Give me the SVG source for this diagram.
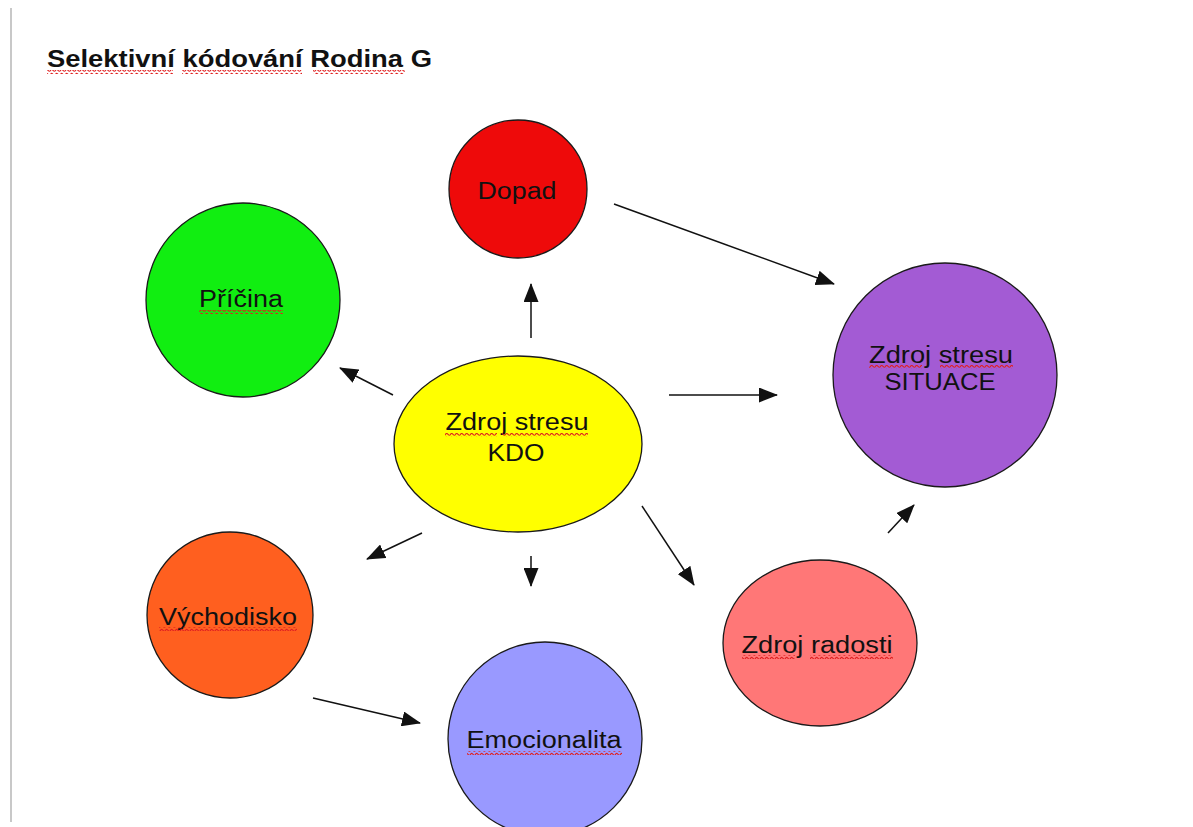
<svg xmlns="http://www.w3.org/2000/svg" width="1193" height="827" viewBox="0 0 1193 827">
  <style>
    .node { stroke: #1a1a1a; stroke-width: 1.3; }
    .label { font-family: "Liberation Sans", Arial, sans-serif; font-size: 23px; fill: #111; text-anchor: middle; }
    .title { font-family: "Liberation Sans", Arial, sans-serif; font-size: 23px; font-weight: bold; fill: #111; }
    .edge { stroke: #111; stroke-width: 1.5; fill: none; marker-end: url(#arrow); }
    .squiggle { fill: url(#wave); }
  </style>
  <defs>
    <marker id="arrow" markerUnits="userSpaceOnUse" markerWidth="19" markerHeight="15" viewBox="0 0 19 15" refX="18" refY="7.5" orient="auto">
      <path d="M0,0 L19,7.5 L0,15 Z" fill="#111"/>
    </marker>
    <pattern id="wave" width="5" height="4" patternUnits="userSpaceOnUse">
      <path d="M0,3.2 Q1.25,0.4 2.5,1.8 T5,3.2" fill="none" stroke="#e02020" stroke-width="1.1"/>
    </pattern>
  </defs>

  <rect width="1193" height="827" fill="#ffffff"/>
  <!-- page margin rule -->
  <line x1="11" y1="8" x2="11" y2="822" stroke="#c8c8c8" stroke-width="2"/>

  <!-- heading -->
  <text class="title" x="47" y="67" textLength="385" lengthAdjust="spacingAndGlyphs">Selektivní kódování Rodina G</text>
  <rect class="squiggle" x="47" y="70" width="126" height="4"/>
  <rect class="squiggle" x="182" y="70" width="120" height="4"/>
  <rect class="squiggle" x="313" y="70" width="92" height="4"/>

  <!-- connectors -->
  <g id="connectors">
    <line class="edge" x1="531" y1="338" x2="531" y2="284"/>
    <line class="edge" x1="614" y1="204" x2="834" y2="284"/>
    <line class="edge" x1="669" y1="395" x2="777" y2="395"/>
    <line class="edge" x1="642" y1="506" x2="694" y2="585"/>
    <line class="edge" x1="888" y1="533" x2="914" y2="505"/>
    <line class="edge" x1="393" y1="395" x2="340" y2="368"/>
    <line class="edge" x1="422" y1="533" x2="367" y2="559"/>
    <line class="edge" x1="531" y1="556" x2="531" y2="586"/>
    <line class="edge" x1="313" y1="698" x2="420" y2="723"/>
  </g>

  <!-- nodes -->
  <g id="dopad">
    <ellipse class="node" cx="518" cy="189" rx="69" ry="69" fill="#ee0a0a"/>
    <text class="label" x="517" y="199" textLength="79" lengthAdjust="spacingAndGlyphs">Dopad</text>
  </g>

  <g id="pricina">
    <ellipse class="node" cx="243" cy="300" rx="97" ry="97" fill="#11ee11"/>
    <text class="label" x="241" y="307" textLength="84" lengthAdjust="spacingAndGlyphs">Příčina</text>
    <rect class="squiggle" x="199" y="310" width="84" height="4"/>
  </g>

  <g id="kdo">
    <ellipse class="node" cx="518" cy="444" rx="124" ry="88" fill="#ffff00"/>
    <text class="label" x="517" y="430" textLength="143" lengthAdjust="spacingAndGlyphs">Zdroj stresu</text>
    <text class="label" x="516" y="461" textLength="57" lengthAdjust="spacingAndGlyphs">KDO</text>
    <rect class="squiggle" x="445" y="433" width="52" height="4"/>
    <rect class="squiggle" x="502" y="433" width="86" height="4"/>
  </g>

  <g id="situace">
    <ellipse class="node" cx="945" cy="375" rx="112" ry="112" fill="#a35bd4"/>
    <text class="label" x="941" y="363" textLength="144" lengthAdjust="spacingAndGlyphs">Zdroj stresu</text>
    <text class="label" x="940" y="390" textLength="111" lengthAdjust="spacingAndGlyphs">SITUACE</text>
    <rect class="squiggle" x="869" y="365" width="53" height="4"/>
    <rect class="squiggle" x="940" y="365" width="73" height="4"/>
  </g>

  <g id="radost">
    <ellipse class="node" cx="820" cy="643" rx="97" ry="83" fill="#ff7777"/>
    <text class="label" x="817" y="653" textLength="151" lengthAdjust="spacingAndGlyphs">Zdroj radosti</text>
    <rect class="squiggle" x="742" y="655" width="53" height="4"/>
    <rect class="squiggle" x="810" y="655" width="83" height="4"/>
  </g>

  <g id="vychodisko">
    <ellipse class="node" cx="230" cy="615" rx="83" ry="83" fill="#ff5f1f"/>
    <text class="label" x="228" y="625" textLength="138" lengthAdjust="spacingAndGlyphs">Východisko</text>
    <rect class="squiggle" x="159" y="627" width="138" height="4"/>
  </g>

  <g id="emocionalita">
    <ellipse class="node" cx="545" cy="739" rx="97" ry="97" fill="#9999ff"/>
    <text class="label" x="544" y="748" textLength="155" lengthAdjust="spacingAndGlyphs">Emocionalita</text>
    <rect class="squiggle" x="467" y="751" width="155" height="4"/>
  </g>
</svg>
